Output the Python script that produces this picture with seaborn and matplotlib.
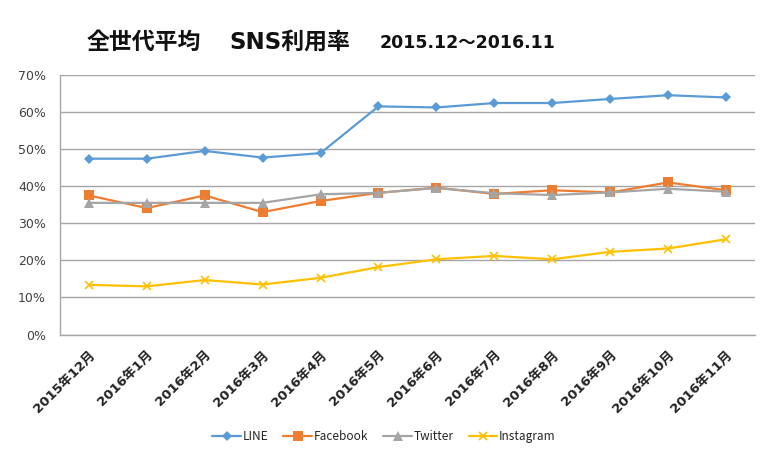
import matplotlib
matplotlib.use("Agg")
import matplotlib.pyplot as plt
import seaborn as sns
import pandas as pd
from matplotlib.ticker import PercentFormatter, MultipleLocator
from matplotlib.lines import Line2D

months = ["2015年12月", "2016年1月", "2016年2月", "2016年3月", "2016年4月", "2016年5月",
          "2016年6月", "2016年7月", "2016年8月", "2016年9月", "2016年10月", "2016年11月"]
line_vals = [47.4, 47.4, 49.5, 47.7, 48.9, 61.5, 61.2, 62.4, 62.4, 63.5, 64.5, 63.9]
facebook_vals = [37.5, 34.1, 37.5, 33.0, 36.0, 38.2, 39.6, 37.9, 38.9, 38.3, 41.0, 38.9]
twitter_vals = [35.5, 35.5, 35.5, 35.5, 37.8, 38.2, 39.5, 38.1, 37.6, 38.3, 39.3, 38.5]
instagram_vals = [13.4, 13.0, 14.7, 13.5, 15.3, 18.2, 20.3, 21.2, 20.3, 22.3, 23.2, 25.7]
series_names = ["LINE", "Facebook", "Twitter", "Instagram"]

colors = {"LINE": "#5B9BD5", "Facebook": "#ED7D31", "Twitter": "#A5A5A5", "Instagram": "#FFC000"}
markers = {"LINE": "D", "Facebook": "s", "Twitter": "^", "Instagram": "x"}
msizes = {"LINE": 5, "Facebook": 6.5, "Twitter": 6.5, "Instagram": 6}

rows = []
for name, vals in zip(series_names, [line_vals, facebook_vals, twitter_vals, instagram_vals]):
    for i, (m, v) in enumerate(zip(months, vals)):
        rows.append({"month": m, "idx": i, "series": name, "value": v})
df = pd.DataFrame(rows)

sns.set_theme(style="white")
plt.rcParams["font.family"] = ["Noto Sans CJK JP", "DejaVu Sans"]
mixed = ["DejaVu Sans", "Noto Sans CJK JP"]

fig = plt.figure(figsize=(7.68, 4.59), dpi=100)
ax = fig.add_axes([0.078, 0.271, 0.905, 0.566])

for name in series_names:
    sub = df[df["series"] == name]
    sns.lineplot(data=sub, x="idx", y="value", color=colors[name], marker=markers[name],
                 linewidth=1.6, markersize=msizes[name],
                 markeredgewidth=1.2 if markers[name] == "x" else 0,
                 markeredgecolor=colors[name], ax=ax, legend=False)

ax.set_xlim(-0.5, 11.5)
ax.set_ylim(0, 70)
ax.yaxis.set_major_locator(MultipleLocator(10))
ax.yaxis.set_major_formatter(PercentFormatter(decimals=0))
ax.grid(axis="y", color="#A6A6A6", linewidth=1)
ax.set_axisbelow(True)
ax.set_xticks(range(len(months)))
ax.set_xticklabels(months, rotation=45, ha="right", rotation_mode="anchor",
                   fontsize=9.5, fontweight="bold", color="#222222", family=mixed)
ax.tick_params(axis="y", labelsize=9, colors="#404040", length=0, pad=10)
ax.tick_params(axis="x", length=0, pad=10)
for lbl in ax.get_yticklabels():
    lbl.set_family(mixed)
for s in ["top", "right"]:
    ax.spines[s].set_visible(False)
for s in ["left", "bottom"]:
    ax.spines[s].set_color("#A6A6A6")
    ax.spines[s].set_linewidth(1)
ax.set_xlabel("")
ax.set_ylabel("")

fig.text(87 / 768, 0.908, "全世代平均", fontsize=16.5, fontweight="bold", color="#111111", va="center")
fig.text(229 / 768, 0.908, "SNS利用率", fontsize=16.5, fontweight="bold", color="#111111",
         va="center", family=mixed)
fig.text(380 / 768, 0.906, "2015.12～2016.11", fontsize=12.5, fontweight="bold", color="#111111",
         va="center", family=mixed)

handles = [Line2D([0], [0], color=colors[n], marker=markers[n], linewidth=1.6, markersize=msizes[n],
                  markeredgewidth=1.2 if markers[n] == "x" else 0) for n in series_names]
fig.legend(handles, series_names, loc="center", bbox_to_anchor=(0.5, 0.048), ncol=4,
           frameon=False, fontsize=8.5, handlelength=2.4, handletextpad=0.15, columnspacing=1.3)

fig.savefig("out.png", dpi=100)
